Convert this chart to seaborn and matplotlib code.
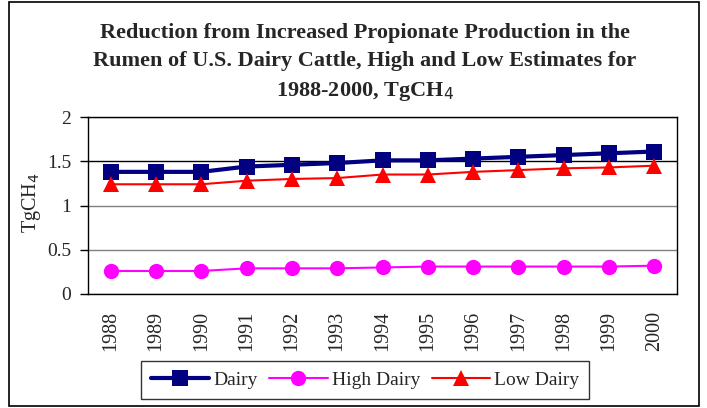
import pandas as pd
import seaborn as sns
from matplotlib import pyplot as plt
from matplotlib.patches import Rectangle

years = ['1988', '1989', '1990', '1991', '1992', '1993', '1994',
         '1995', '1996', '1997', '1998', '1999', '2000']
dairy = [1.38, 1.38, 1.38, 1.44, 1.46, 1.48, 1.51, 1.51, 1.53, 1.55, 1.57, 1.59, 1.61]
high_dairy = [0.26, 0.26, 0.26, 0.29, 0.29, 0.29, 0.30, 0.31, 0.31, 0.31, 0.31, 0.31, 0.32]
low_dairy = [1.24, 1.24, 1.24, 1.28, 1.30, 1.31, 1.35, 1.35, 1.38, 1.40, 1.42, 1.43, 1.45]
series_names = ['Dairy', 'High Dairy', 'Low Dairy']

sns.set_style('white')
plt.rcParams['font.family'] = ['Liberation Serif', 'DejaVu Serif']

df = pd.DataFrame({'pos': list(range(len(years))) * 3,
                   'value': dairy + high_dairy + low_dairy,
                   'series': [s for s in series_names for _ in years]})

fig = plt.figure(figsize=(7.07, 4.08), dpi=100)
ax = fig.add_axes([88 / 707, 1 - 294 / 408, 589 / 707, 177 / 408])

sns.lineplot(data=df, x='pos', y='value', hue='series', style='series',
             palette={'Dairy': '#000080', 'High Dairy': '#FF00FF', 'Low Dairy': '#FF0000'},
             markers={'Dairy': 's', 'High Dairy': 'o', 'Low Dairy': '^'},
             dashes=False, markersize=11, markeredgewidth=0, ax=ax, legend=False)
for line, lw in zip(ax.lines, [3, 1.5, 1.5]):
    line.set_linewidth(lw)

ax.set_xlim(-0.5, len(years) - 0.5)
ax.set_ylim(0, 2)
ax.set_yticks([0, 0.5, 1, 1.5, 2])
ax.set_yticklabels(['0', '0.5', '1', '1.5', '2'], fontsize=14)
ax.set_xticks(range(len(years)))
ax.set_xticklabels(years, rotation=90, fontsize=14.5)
ax.set_xticks([i - 0.5 for i in range(len(years) + 1)], minor=True)
ax.tick_params(axis='x', which='major', length=0, pad=12)
ax.tick_params(axis='x', which='minor', length=6, width=1, color='black', direction='out')
ax.tick_params(axis='y', length=6, width=1, color='black', direction='out', left=True, pad=6)
ax.set_xlabel('')
ax.set_ylabel('TgCH$_4$', fontsize=14.5)
ax.yaxis.set_label_coords(-0.076, 0.515)

ax.yaxis.grid(True, color='#808080', lw=1)
ax.set_axisbelow(True)
for y, gl in zip([0, 0.5, 1, 1.5, 2], ax.get_ygridlines()):
    if y == 1.5:
        gl.set_color('black')
for sp in ax.spines.values():
    sp.set_color('black')
    sp.set_linewidth(1)

fig.text(365 / 707, 1 - 63 / 408,
         'Reduction from Increased Propionate Production in the\n'
         'Rumen of U.S. Dairy Cattle, High and Low Estimates for\n'
         '1988-2000, TgCH$_4$',
         ha='center', va='center', fontsize=16, fontweight='bold', linespacing=1.52)

handles = ax.lines[:3]
leg = fig.legend(handles, series_names, loc='center', ncol=3,
                 bbox_to_anchor=(365 / 707, 1 - 380 / 408), fontsize=14,
                 frameon=True, fancybox=False, edgecolor='black',
                 handlelength=3, handletextpad=0.2, columnspacing=0.6, borderpad=0.5)
leg.get_frame().set_linewidth(1)

fig.patches.append(Rectangle((9 / 707, 1 - 406 / 408), 690 / 707, 404 / 408,
                             transform=fig.transFigure, fill=False,
                             edgecolor='black', lw=1.2))

fig.savefig('out.png', dpi=100)
